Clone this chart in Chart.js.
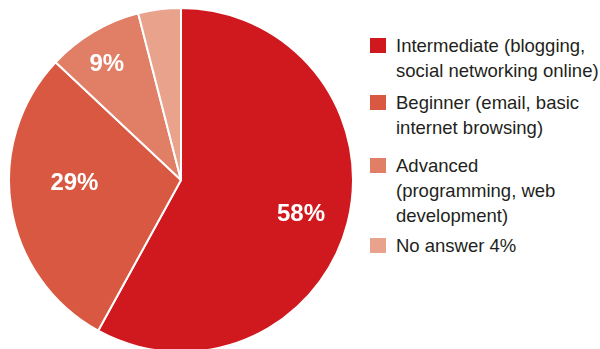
<!DOCTYPE html>
<html>
<head>
<meta charset="utf-8">
<script src="https://cdn.jsdelivr.net/npm/chart.js@4"></script>
<style>
  html, body { margin: 0; padding: 0; background: #fff; width: 600px; height: 349px; overflow: hidden; }
  #wrap { position: absolute; left: 8px; top: 7px; width: 346px; height: 346px; }
  .item { position: absolute; left: 370px; font-family: "Liberation Sans", Arial, sans-serif; font-size: 18.5px; line-height: 25px; color: #231f20; }
  .item .sw { position: absolute; left: 0; top: 5px; width: 16px; height: 15px; }
  .item .tx { margin-left: 26px; white-space: nowrap; }
</style>
</head>
<body>
<div id="wrap"><canvas id="pie-chart"></canvas></div>
<div id="legend"></div>
<script>
var labels = ['Intermediate (blogging, social networking online)', 'Beginner (email, basic internet browsing)', 'Advanced (programming, web development)', 'No answer 4%'];
var legendLines = [['Intermediate (blogging,', 'social networking online)'], ['Beginner (email, basic', 'internet browsing)'], ['Advanced', '(programming, web', 'development)'], ['No answer 4%']];
var values = [58, 29, 9, 4];
var valueLabels = ['58%', '29%', '9%', ''];
var colors = ['#D0191F', '#D95842', '#E07E66', '#E9A38D'];

// label placement: radial fraction and angle shift (deg) per slice
var labelSpot = [[0.725, 1.4], [0.62, 7], [0.80, -2], [0.7, 0]];

var sliceText = {
  id: 'sliceText',
  afterDatasetsDraw: function (chart) {
    var ctx = chart.ctx;
    var arcs = chart.getDatasetMeta(0).data;
    ctx.save();
    ctx.fillStyle = '#fff';
    ctx.font = 'bold 24px "Liberation Sans", Arial, sans-serif';
    ctx.textAlign = 'center';
    ctx.textBaseline = 'middle';
    arcs.forEach(function (a, i) {
      if (!valueLabels[i]) return;
      var mid = (a.startAngle + a.endAngle) / 2 + labelSpot[i][1] * Math.PI / 180;
      var r = a.outerRadius * labelSpot[i][0];
      ctx.fillText(valueLabels[i], a.x + Math.cos(mid) * r, a.y + Math.sin(mid) * r);
    });
    ctx.restore();
  }
};

new Chart(document.getElementById('pie-chart'), {
  type: 'pie',
  data: {
    labels: labels,
    datasets: [{
      data: values,
      backgroundColor: colors,
      borderColor: '#fff',
      borderWidth: 2
    }]
  },
  options: {
    responsive: true,
    maintainAspectRatio: false,
    animation: false,
    layout: { padding: 0 },
    plugins: {
      legend: { display: false },
      tooltip: { enabled: false }
    }
  },
  plugins: [sliceText]
});

// html legend
var tops = [33, 90, 153, 233];
var legend = document.getElementById('legend');
legendLines.forEach(function (lines, i) {
  var d = document.createElement('div');
  d.className = 'item';
  d.style.top = tops[i] + 'px';
  d.innerHTML = '<span class="sw" style="background:' + colors[i] + '"></span><div class="tx">' + lines.join('<br>') + '</div>';
  legend.appendChild(d);
});
</script>
</body>
</html>
